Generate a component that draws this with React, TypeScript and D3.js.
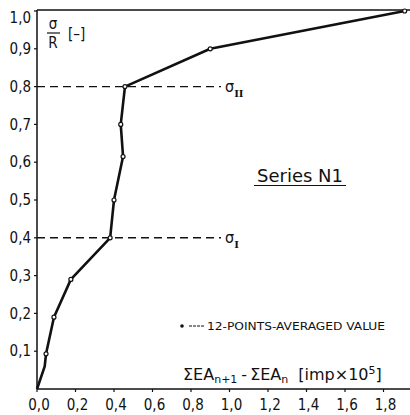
import React from 'react';
import * as d3 from 'd3';

// averaged points, x = ΣEA(n+1) - ΣEA(n) [imp x 1e5], y = σ/R
const xVals = [0, 0.04, 0.047, 0.088, 0.176, 0.38, 0.40, 0.447, 0.435, 0.457, 0.90, 1.91];
const yVals = [0, 0.06, 0.093, 0.19, 0.29, 0.40, 0.50, 0.615, 0.70, 0.80, 0.90, 1.0];
const markerIdx = [2, 3, 4, 5, 6, 7, 8, 9, 10, 11];
const xTicks = [0, 0.2, 0.4, 0.6, 0.8, 1.0, 1.2, 1.4, 1.6, 1.8];
const yTicks = [0.1, 0.2, 0.3, 0.4, 0.5, 0.6, 0.7, 0.8, 0.9, 1.0];
const levels = [
  { y: 0.8, sub: 'II' },
  { y: 0.4, sub: 'I' },
];

const W = 410;
const H = 415;

const App = () => {
  const x = d3.scaleLinear().domain([0, 2]).range([37, 37 + 385]);
  const y = d3.scaleLinear().domain([0, 1]).range([389, 11]);
  const fmt = (v: number) => d3.format('.1f')(v).replace('.', ',');
  const pts: [number, number][] = xVals.map((v, i) => [v, yVals[i]]);
  const lineGen = d3
    .line<[number, number]>()
    .x((d) => x(d[0]))
    .y((d) => y(d[1]));
  const font = "'Liberation Sans Narrow', 'DejaVu Sans Condensed', sans-serif";
  const wide = "'DejaVu Sans', sans-serif";

  return (
    <svg
      width={W}
      height={H}
      style={{ position: 'absolute', left: 0, top: 0, background: '#fff' }}
      fontFamily={font}
    >
      {/* frame */}
      <line x1={x(0)} x2={W} y1={y(1) - 1} y2={y(1) - 1} stroke="#111" strokeWidth={1.5} />
      <line x1={x(0)} x2={x(0)} y1={y(1) - 1} y2={y(0)} stroke="#111" strokeWidth={1.5} />
      <line x1={x(0)} x2={W} y1={y(0)} y2={y(0)} stroke="#111" strokeWidth={1.5} />

      {/* y ticks */}
      {yTicks.map((t) => (
        <g key={'y' + t}>
          <line x1={x(0) - 3} x2={x(0)} y1={y(t)} y2={y(t)} stroke="#111" strokeWidth={1.2} />
          <text
            x={31}
            y={y(t) + (t === 1 ? 7 : 0)}
            dy="0.35em"
            textAnchor="end"
            fontSize={15}
            fill="#111"
          >
            {fmt(t)}
          </text>
        </g>
      ))}

      {/* x ticks */}
      {xTicks.map((t) => (
        <g key={'x' + t}>
          <line x1={x(t)} x2={x(t)} y1={y(0)} y2={y(0) + 3} stroke="#111" strokeWidth={1.2} />
          <text x={x(t) + 2} y={410} textAnchor="middle" fontSize={15} fill="#111">
            {fmt(t)}
          </text>
        </g>
      ))}

      {/* dashed levels */}
      {levels.map((l) => (
        <g key={l.sub}>
          <line
            x1={x(0)}
            x2={221}
            y1={y(l.y)}
            y2={y(l.y)}
            stroke="#111"
            strokeWidth={1.4}
            strokeDasharray="8,5"
          />
          <text x={225} y={y(l.y) + 5} fontSize={16} fill="#111">
            σ
            <tspan fontSize={10} dy={5} fontFamily="'DejaVu Serif', serif" fontWeight="bold">
              {l.sub}
            </tspan>
          </text>
        </g>
      ))}

      {/* curve */}
      <path d={lineGen(pts) ?? ''} fill="none" stroke="#111" strokeWidth={2.6} strokeLinejoin="round" />
      {markerIdx.map((i) => (
        <circle key={i} cx={x(xVals[i])} cy={y(yVals[i])} r={2} fill="#fff" stroke="#111" strokeWidth={1.2} />
      ))}

      {/* y label */}
      <text x={53} y={29} textAnchor="middle" fontSize={15} fill="#111">σ</text>
      <line x1={47} x2={60} y1={33} y2={33} stroke="#111" strokeWidth={1.2} />
      <text x={53} y={48} textAnchor="middle" fontSize={15} fill="#111">R</text>
      <text x={68} y={39} fontSize={15} fill="#111">[–]</text>

      {/* series title */}
      <text x={257} y={182} fontSize={18} fill="#111" fontFamily={wide}>Series N1</text>
      <line x1={254} x2={346} y1={185.5} y2={185.5} stroke="#111" strokeWidth={1.2} />

      {/* legend */}
      <circle cx={182} cy={326} r={1.8} fill="#111" />
      <line x1={189} x2={205} y1={326} y2={326} stroke="#111" strokeWidth={1} strokeDasharray="3,1" />
      <text x={207} y={330} fontSize={11} fill="#111" textLength={178} lengthAdjust="spacingAndGlyphs">
        12-POINTS-AVERAGED VALUE
      </text>

      {/* x label */}
      <text x={183} y={380} fontSize={16} fill="#111" fontFamily={wide}>
        ΣEA<tspan fontSize={11} dy={3}>n+1</tspan>
        <tspan dy={-3} dx={4}>-</tspan>
        <tspan dx={3}>ΣEA</tspan>
        <tspan fontSize={11} dy={3}>n</tspan>
        <tspan dy={-3} dx={10}>[imp×10</tspan>
        <tspan fontSize={11} dy={-6}>5</tspan>
        <tspan dy={6}>]</tspan>
      </text>
    </svg>
  );
};

export default App;
